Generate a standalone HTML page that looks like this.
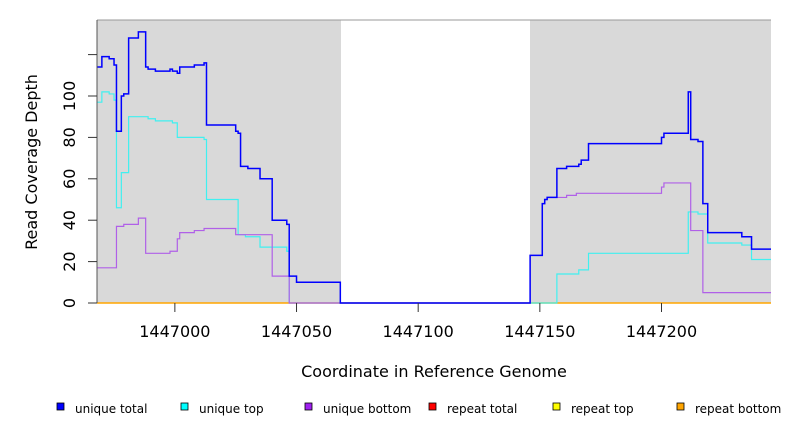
<!DOCTYPE html>
<html><head><meta charset="utf-8"><style>
body{margin:0;background:#fff;width:792px;height:432px;overflow:hidden;font-family:"Liberation Sans","DejaVu Sans",sans-serif}
</style></head><body>
<svg id="chart" width="792" height="432" xmlns="http://www.w3.org/2000/svg" font-family="DejaVu Sans, Liberation Sans, sans-serif">
<rect x="97" y="20" width="244" height="283" fill="#d9d9d9"/>
<rect x="530" y="20" width="241" height="283" fill="#d9d9d9"/>
<line x1="97" y1="20" x2="771" y2="20" stroke="#999" stroke-width="1"/>
<g id="series"></g>
<line x1="97" y1="20" x2="97" y2="303" stroke="#555" stroke-width="1"/>
<g id="axes" font-size="16" fill="#000"></g>
<text transform="translate(37,162) rotate(-90)" text-anchor="middle" font-size="16">Read Coverage Depth</text>
<text x="434" y="377" text-anchor="middle" font-size="16">Coordinate in Reference Genome</text>
<g id="legend" font-size="12"></g>
</svg>
<script>
const xTicks=[1447000,1447050,1447100,1447150,1447200];
const yTicks=[0,20,40,60,80,100,120];
const yLabels=["0","20","40","60","80","100",""];
// step series: coordinate breakpoints and depth values (value holds from coord to next coord)
const totalX=[1446968,1446970,1446973,1446975,1446976,1446978,1446979,1446981,1446985,1446988,1446989,1446992,1446998,1446999,1447001,1447002,1447008,1447012,1447013,1447025,1447026,1447027,1447030,1447035,1447040,1447046,1447047,1447050,1447068,1447146,1447151,1447152,1447153,1447157,1447161,1447166,1447167,1447170,1447200,1447201,1447211,1447212,1447215,1447217,1447219,1447233,1447237,1447245];
const totalY=[114,119,118,115,83,100,101,128,131,114,113,112,113,112,111,114,115,116,86,83,82,66,65,60,40,38,13,10,0,23,48,50,51,65,66,67,69,77,80,82,102,79,78,48,34,32,26,26];
const topX=[1446968,1446970,1446973,1446975,1446976,1446978,1446981,1446989,1446992,1446999,1447001,1447012,1447013,1447026,1447029,1447035,1447046,1447047,1447157,1447166,1447170,1447211,1447215,1447219,1447233,1447237,1447245];
const topY=[97,102,101,98,46,63,90,89,88,87,80,79,50,33,32,27,25,0,14,16,24,44,43,29,28,21,21];
const botX=[1446968,1446976,1446979,1446985,1446988,1446998,1447001,1447002,1447008,1447012,1447025,1447040,1447047,1447146,1447151,1447152,1447153,1447161,1447165,1447200,1447201,1447212,1447217,1447245];
const botY=[17,37,38,41,24,25,31,34,35,36,33,13,0,23,48,50,51,52,53,56,58,35,5,5];
const legendNames=["unique total","unique top","unique bottom","repeat total","repeat top","repeat bottom"];
const legendColors=["#0000ff","#00ffff","#a020f0","#ff0000","#ffff00","#ffa500"];

const X0=97,X1=771,C0=1446968,C1=1447245,Y0=303,YS=2.07;
const sx=c=>X0+(c-C0)*(X1-X0)/(C1-C0);
const sy=v=>Y0-v*YS;
const NS="http://www.w3.org/2000/svg";
function mk(tag,attrs,parent){const e=document.createElementNS(NS,tag);for(const k in attrs)e.setAttribute(k,attrs[k]);parent.appendChild(e);return e;}
const series=document.getElementById('series');
const base=mk('line',{x1:X0,y1:Y0,x2:X1,y2:Y0,stroke:'#ffa500','stroke-width':1.5},series);


function stepPath(xs,ys){let d='M'+sx(xs[0])+','+sy(ys[0]);for(let i=1;i<xs.length;i++){d+=' H'+sx(xs[i])+' V'+sy(ys[i]);}return d;}
const defs=[[topX,topY,'#40f0f0',1.2,'unique-top-line'],[botX,botY,'#b060e8',1.2,'unique-bottom-line'],[totalX,totalY,'#0000ff',1.5,'unique-total-line']];
defs.forEach(s=>{
  const p=mk('path',{d:stepPath(s[0],s[1]),fill:'none',stroke:s[2],'stroke-width':s[3]},series);
  
  
});
const axes=document.getElementById('axes');
xTicks.forEach(t=>{
  const l=mk('line',{x1:sx(t),y1:303,x2:sx(t),y2:312,stroke:'#333'},axes);
  
  
  const tx=mk('text',{x:sx(t),y:337,'text-anchor':'middle'},axes);tx.textContent=t;
  
  
});
yTicks.forEach((t,i)=>{
  const l=mk('line',{x1:88,y1:sy(t),x2:97,y2:sy(t),stroke:'#333'},axes);
  
  
  if(yLabels[i]){const tx=mk('text',{transform:'translate(75,'+sy(t)+') rotate(-90)','text-anchor':'middle'},axes);tx.textContent=yLabels[i];
  
  }
});
const lg=document.getElementById('legend');
legendNames.forEach((n,i)=>{
  const x=57+i*124;
  const r=mk('rect',{x:x,y:403,width:7,height:7,fill:legendColors[i],stroke:'#000','stroke-width':0.8},lg);
  
  
  const t=mk('text',{x:x+18,y:413},lg);t.textContent=n;
  
  
});
</script>
</body></html>
